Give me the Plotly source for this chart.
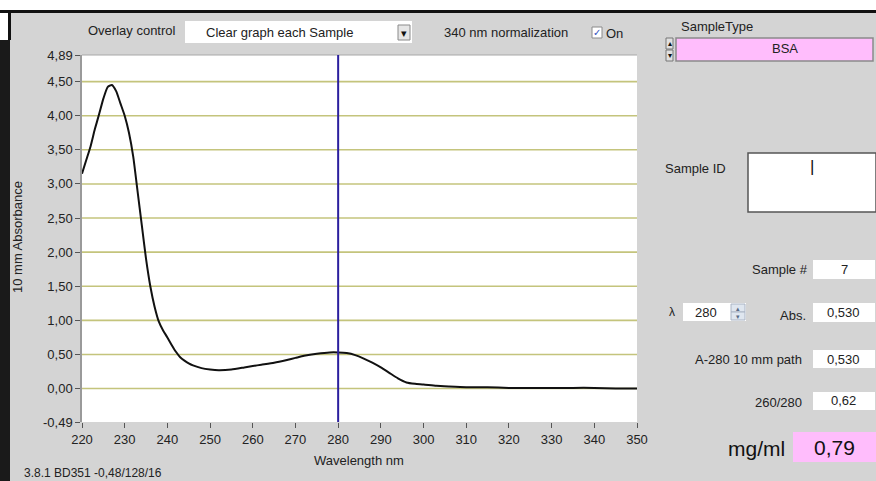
import plotly.graph_objects as go

# ---------------- data ----------------
wavelength = [220, 221, 222, 223, 224, 225, 226, 227, 228, 229, 230, 231, 232, 233, 234,
              235, 236, 237, 238, 239, 240, 241, 242, 243, 244, 245, 246, 248, 250, 252,
              255, 258, 260, 262, 265, 268, 270, 272, 275, 278, 280, 282, 284, 286, 288,
              290, 292, 294, 296, 298, 300, 303, 306, 310, 315, 320, 325, 330, 335, 340,
              345, 350]
absorbance = [3.15, 3.35, 3.55, 3.80, 4.02, 4.25, 4.42, 4.45, 4.36, 4.18, 4.00, 3.75, 3.40,
              2.90, 2.40, 1.90, 1.50, 1.20, 0.98, 0.85, 0.75, 0.64, 0.54, 0.46, 0.41, 0.37,
              0.34, 0.30, 0.28, 0.27, 0.28, 0.31, 0.33, 0.35, 0.38, 0.42, 0.45, 0.48, 0.51,
              0.53, 0.53, 0.52, 0.49, 0.44, 0.38, 0.31, 0.23, 0.15, 0.09, 0.07, 0.06, 0.04,
              0.03, 0.02, 0.02, 0.01, 0.01, 0.01, 0.01, 0.01, 0.00, 0.00]
selected_wavelength = 280
grid_levels = [0.0, 0.5, 1.0, 1.5, 2.0, 2.5, 3.0, 3.5, 4.0, 4.5]
y_tick_vals = [-0.49, 0.0, 0.5, 1.0, 1.5, 2.0, 2.5, 3.0, 3.5, 4.0, 4.5, 4.89]
y_tick_text = ["-0,49", "0,00", "0,50", "1,00", "1,50", "2,00", "2,50", "3,00",
               "3,50", "4,00", "4,50", "4,89"]
x_tick_vals = [220, 230, 240, 250, 260, 270, 280, 290, 300, 310, 320, 330, 340, 350]
x_range = [220, 350]
y_range = [-0.49, 4.89]

# ---------------- layout helpers ----------------
W, H = 876, 481
L, R, T, B = 82, 637, 55, 422
FONT = "Liberation Sans"
TXT = "#222222"
GREY = "#d4d4d4"
PINK = "#ffbdfc"


def px(x):
    return (x - L) / (R - L)


def py(y):
    return (B - y) / (B - T)


shapes = []
annotations = []


def rect(x0, y0, x1, y1, fill, line=None, lw=1):
    shapes.append(dict(type="rect", xref="paper", yref="paper", layer="above",
                       x0=px(x0), x1=px(x1), y0=py(y1), y1=py(y0),
                       fillcolor=fill,
                       line=dict(color=line if line else fill, width=lw if line else 0)))


def ann(text, x, y, size=13, anchor="left", color=TXT, angle=0):
    annotations.append(dict(text=text, x=px(x), y=py(y), xref="paper", yref="paper",
                            xanchor=anchor, yanchor="middle", showarrow=False,
                            textangle=angle,
                            font=dict(family=FONT, size=size, color=color)))


# window frame
rect(0, 0, W, 10, "white")
rect(0, 10, 8, 40, "white")
rect(0, 10, W, 13, "#111111")
rect(0, 40, 10, H, "#1a1a1a")
rect(8, 10, 11, 40, "#111111")

# grid lines (below the curve)
for g in grid_levels:
    shapes.append(dict(type="line", xref="paper", yref="y", layer="below",
                       x0=0, x1=1, y0=g, y1=g,
                       line=dict(color="#c4c47c", width=1.6)))
# top border of plot
shapes.append(dict(type="line", xref="paper", yref="paper", layer="above",
                   x0=0, x1=1, y0=1, y1=1, line=dict(color="#a8a8a8", width=1)))
# selected wavelength marker
shapes.append(dict(type="line", xref="x", yref="paper", layer="above",
                   x0=selected_wavelength, x1=selected_wavelength, y0=0, y1=1,
                   line=dict(color="#2b1f9e", width=2)))

# top control bar
ann("Overlay control", 178, 31, anchor="right")
rect(185, 21, 412, 43, "white")
ann("Clear graph each Sample", 204, 32)
rect(398, 25, 410, 40, "#e6e6e6", "#8a8a8a", 1)
ann("▾", 404, 33, size=11, anchor="center", color="#111")
ann("340 nm normalization", 442, 32)
rect(592, 27, 602, 38, "white", "#8a8a8a", 1)
ann("✓", 597, 32, size=10, anchor="center", color="#3050c0")
ann("On", 604, 34)

# right panel
ann("SampleType", 679, 27)
rect(666, 38, 673, 49, "#e0e0e0", "#777", 1)
rect(666, 50, 673, 61, "#e0e0e0", "#777", 1)
ann("▴", 669.5, 43.5, size=8, anchor="center", color="#111")
ann("▾", 669.5, 55.5, size=8, anchor="center", color="#111")
rect(676, 38, 873, 61, PINK, "#8a8a8a", 1.5)
ann("BSA", 770, 49)

ann("Sample ID", 663, 168)
rect(748, 153, 876, 212, "white", "#555555", 1.5)
ann("|", 812, 166, size=17, anchor="center", color="#111")

ann("Sample #", 810, 269, anchor="right")
rect(813, 260, 875, 279, "white")
ann("7", 844, 269, anchor="center")

ann("λ", 672, 312, size=12, anchor="center")
rect(683, 303, 746, 321, "white")
ann("280", 706, 312, anchor="center")
rect(731, 304, 745, 312, "#dfe6ef", "#aab4c4", 1)
rect(731, 312, 745, 320, "#dfe6ef", "#aab4c4", 1)
ann("▴", 738, 308, size=7, anchor="center", color="#5a6b86")
ann("▾", 738, 316, size=7, anchor="center", color="#5a6b86")

ann("Abs.", 808, 315, anchor="right")
rect(813, 303, 875, 322, "white")
ann("0,530", 843, 312, anchor="center")

ann("A-280 10 mm path", 804, 359, anchor="right")
rect(813, 350, 875, 368, "white")
ann("0,530", 843, 359, anchor="center")

ann("260/280", 804, 402, anchor="right")
rect(813, 392, 875, 410, "white")
ann("0,62", 843, 400, anchor="center")

ann("mg/ml", 787, 448, size=21, anchor="right", color="#111")
rect(793, 432, 876, 462, PINK)
ann("0,79", 834, 447, size=21, anchor="center", color="#111")

# axis titles and footer
ann("Wavelength nm", 359, 461, anchor="center")
ann("10 mm Absorbance", 17, 237, anchor="center", angle=-90)
ann("3.8.1 BD351 -0,48/128/16", 22, 473, size=12)

# ---------------- figure ----------------
fig = go.Figure()
fig.add_trace(go.Scatter(x=wavelength, y=absorbance, mode="lines",
                         line=dict(color="#111111", width=2, shape="spline", smoothing=0.5),
                         hoverinfo="x+y", showlegend=False))

fig.update_layout(
    width=W, height=H,
    margin=dict(l=L, r=W - R, t=T, b=H - B, pad=0),
    paper_bgcolor=GREY, plot_bgcolor="white",
    font=dict(family=FONT, size=13, color=TXT),
    separators=",.",
    showlegend=False,
    shapes=shapes, annotations=annotations,
    xaxis=dict(range=x_range, tickmode="array", tickvals=x_tick_vals,
               showgrid=False, zeroline=False, showline=False,
               ticks="outside", ticklen=5, tickcolor="#555", tickwidth=1,
               tickfont=dict(family=FONT, size=13, color=TXT)),
    yaxis=dict(range=y_range, tickmode="array", tickvals=y_tick_vals, ticktext=y_tick_text,
               showgrid=False, zeroline=False, showline=True, linecolor="#9a9a9a",
               linewidth=1.5, ticks="outside", ticklen=5, tickcolor="#555", tickwidth=1,
               tickfont=dict(family=FONT, size=13, color=TXT)),
)

fig.write_html("out.html")
